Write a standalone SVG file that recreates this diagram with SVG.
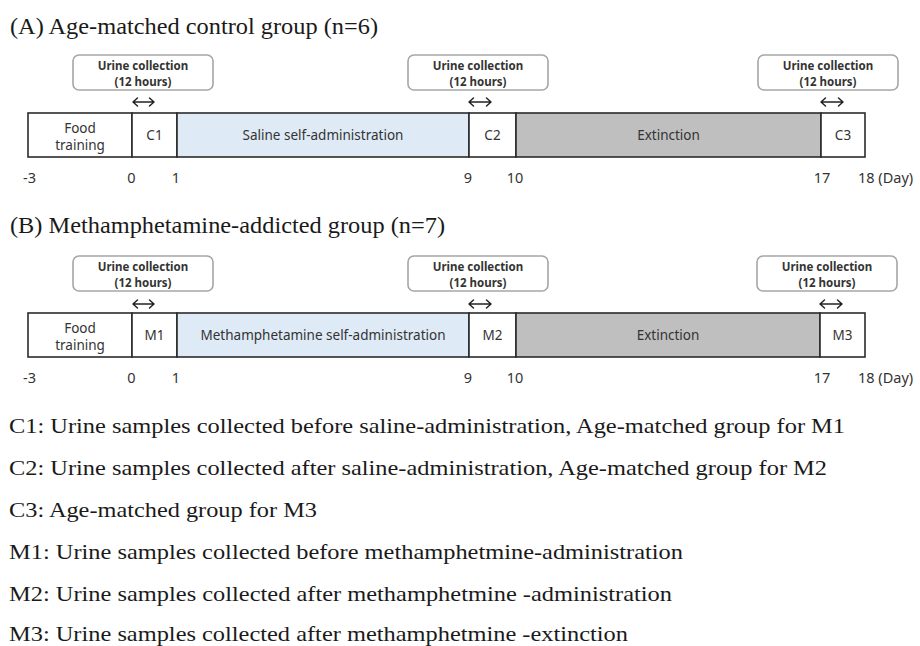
<svg xmlns="http://www.w3.org/2000/svg" width="920" height="646" viewBox="0 0 920 646">
<defs>
<style>
.title{font-family:"Liberation Serif","Times New Roman",serif;font-size:23px;fill:#1a1a1a}
.legend{font-family:"Liberation Serif","Times New Roman",serif;font-size:22px;fill:#1a1a1a}
.seg{stroke:#2b2b2b;stroke-width:1.6}
.white{fill:#ffffff}
.blue{fill:#deeaf6}
.gray{fill:#bfbfbf}
.lab{font-family:"Noto Sans","Open Sans",sans-serif;font-size:13.5px;fill:#333;text-anchor:middle}
.tick{font-family:"Noto Sans","Open Sans",sans-serif;font-size:14.5px;fill:#333;text-anchor:middle}
.ubox{fill:#fff;stroke:#a6a6a6;stroke-width:1.6}
.utext{font-family:"Noto Sans","Open Sans",sans-serif;font-size:11.5px;font-weight:bold;fill:#333;text-anchor:middle}
.arr{fill:none;stroke:#222;stroke-width:1.5;stroke-linecap:round;stroke-linejoin:round}
</style>
</defs>
<rect width="920" height="646" fill="#ffffff"/>

<!-- Panel A -->
<text class="title" x="10" y="34" textLength="368" lengthAdjust="spacingAndGlyphs">(A) Age-matched control group (n=6)</text>

<g id="A-urine1"><rect class="ubox" x="73" y="55" width="140" height="35" rx="6"/><text class="utext" x="143" y="69.5">Urine collection</text><text class="utext" x="143" y="85.5">(12 hours)</text></g>
<g id="A-urine2"><rect class="ubox" x="408" y="55" width="140" height="35" rx="6"/><text class="utext" x="478" y="69.5">Urine collection</text><text class="utext" x="478" y="85.5">(12 hours)</text></g>
<g id="A-urine3"><rect class="ubox" x="758" y="55" width="140" height="35" rx="6"/><text class="utext" x="828" y="69.5">Urine collection</text><text class="utext" x="828" y="85.5">(12 hours)</text></g>

<g id="A-food"><rect class="seg white" x="28" y="113" width="104" height="44"/><text class="lab" x="80" y="132.5">Food</text><text class="lab" x="80" y="149.5">training</text></g>
<g id="A-C1"><rect class="seg white" x="132" y="113" width="45" height="44"/><text class="lab" x="154.5" y="140">C1</text></g>
<g id="A-saline"><rect class="seg blue" x="177" y="113" width="292" height="44"/><text class="lab" x="323" y="140">Saline self-administration</text></g>
<g id="A-C2"><rect class="seg white" x="469" y="113" width="47" height="44"/><text class="lab" x="492.5" y="140">C2</text></g>
<g id="A-ext"><rect class="seg gray" x="516" y="113" width="305" height="44"/><text class="lab" x="668.5" y="140">Extinction</text></g>
<g id="A-C3"><rect class="seg white" x="821" y="113" width="44" height="44"/><text class="lab" x="843" y="140">C3</text></g>

<g id="A-ticks">
<text class="tick" x="29.5" y="183">-3</text>
<text class="tick" x="131.5" y="183">0</text>
<text class="tick" x="176" y="183">1</text>
<text class="tick" x="468" y="183">9</text>
<text class="tick" x="515" y="183">10</text>
<text class="tick" x="822" y="183">17</text>
<text class="tick" x="858" y="183" style="text-anchor:start">18 (Day)</text>
</g>

<!-- Panel B -->
<text class="title" x="10" y="233" textLength="435" lengthAdjust="spacingAndGlyphs">(B) Methamphetamine-addicted group (n=7)</text>

<g id="B-urine1"><rect class="ubox" x="73" y="256" width="140" height="35" rx="6"/><text class="utext" x="143" y="270.5">Urine collection</text><text class="utext" x="143" y="286.5">(12 hours)</text></g>
<g id="B-urine2"><rect class="ubox" x="408" y="256" width="140" height="35" rx="6"/><text class="utext" x="478" y="270.5">Urine collection</text><text class="utext" x="478" y="286.5">(12 hours)</text></g>
<g id="B-urine3"><rect class="ubox" x="757" y="256" width="140" height="35" rx="6"/><text class="utext" x="827" y="270.5">Urine collection</text><text class="utext" x="827" y="286.5">(12 hours)</text></g>

<g id="B-food"><rect class="seg white" x="28" y="313" width="104" height="44"/><text class="lab" x="80" y="332.5">Food</text><text class="lab" x="80" y="349.5">training</text></g>
<g id="B-M1"><rect class="seg white" x="132" y="313" width="45" height="44"/><text class="lab" x="154.5" y="340">M1</text></g>
<g id="B-meth"><rect class="seg blue" x="177" y="313" width="292" height="44"/><text class="lab" x="323" y="340">Methamphetamine self-administration</text></g>
<g id="B-M2"><rect class="seg white" x="469" y="313" width="47" height="44"/><text class="lab" x="492.5" y="340">M2</text></g>
<g id="B-ext"><rect class="seg gray" x="516" y="313" width="304" height="44"/><text class="lab" x="668" y="340">Extinction</text></g>
<g id="B-M3"><rect class="seg white" x="820" y="313" width="45" height="44"/><text class="lab" x="842.5" y="340">M3</text></g>

<g id="B-ticks">
<text class="tick" x="29.5" y="383">-3</text>
<text class="tick" x="131.5" y="383">0</text>
<text class="tick" x="176" y="383">1</text>
<text class="tick" x="468" y="383">9</text>
<text class="tick" x="515" y="383">10</text>
<text class="tick" x="822" y="383">17</text>
<text class="tick" x="858" y="383" style="text-anchor:start">18 (Day)</text>
</g>

<!-- double arrows -->
<g id="connectors">
<path class="arr" d="M133 102H154M137.5 98L133 102L137.5 106M149.5 98L154 102L149.5 106"/>
<path class="arr" d="M469 102H491M473.5 98L469 102L473.5 106M486.5 98L491 102L486.5 106"/>
<path class="arr" d="M821 102H843M825.5 98L821 102L825.5 106M838.5 98L843 102L838.5 106"/>
<path class="arr" d="M133 304H154M137.5 300L133 304L137.5 308M149.5 300L154 304L149.5 308"/>
<path class="arr" d="M469 304H491M473.5 300L469 304L473.5 308M486.5 300L491 304L486.5 308"/>
<path class="arr" d="M820 304H842M824.5 300L820 304L824.5 308M837.5 300L842 304L837.5 308"/>
</g>

<!-- legend -->
<g id="legend">
<text class="legend" x="9" y="433" textLength="836" lengthAdjust="spacingAndGlyphs">C1: Urine samples collected before saline-administration, Age-matched group for M1</text>
<text class="legend" x="9" y="475" textLength="818" lengthAdjust="spacingAndGlyphs">C2: Urine samples collected after saline-administration, Age-matched group for M2</text>
<text class="legend" x="9" y="517" textLength="308" lengthAdjust="spacingAndGlyphs">C3: Age-matched group for M3</text>
<text class="legend" x="9" y="559" textLength="674" lengthAdjust="spacingAndGlyphs">M1: Urine samples collected before methamphetmine-administration</text>
<text class="legend" x="9" y="601" textLength="663" lengthAdjust="spacingAndGlyphs">M2: Urine samples collected after methamphetmine -administration</text>
<text class="legend" x="9" y="641" textLength="619" lengthAdjust="spacingAndGlyphs">M3: Urine samples collected after methamphetmine -extinction</text>
</g>
</svg>
